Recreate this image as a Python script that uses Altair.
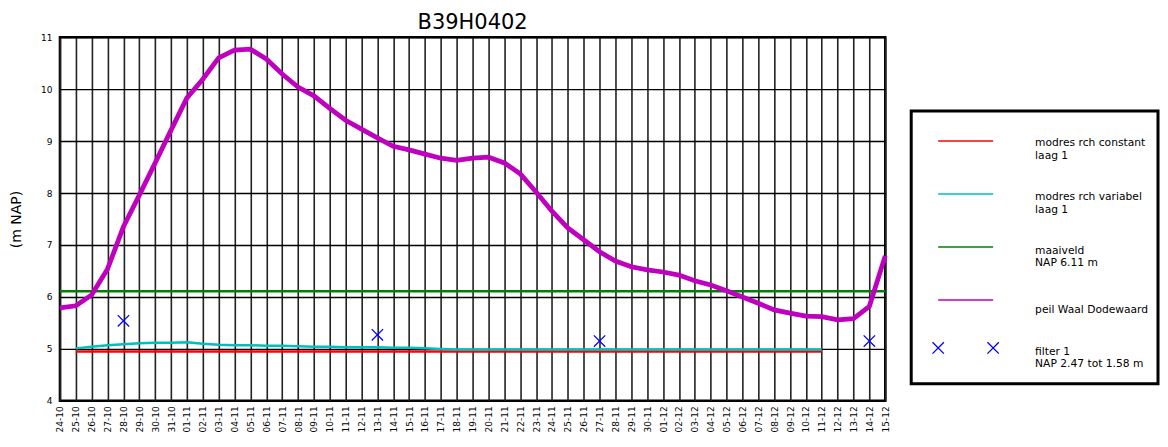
import altair as alt
import pandas as pd

days = ["24-10", "25-10", "26-10", "27-10", "28-10", "29-10", "30-10", "31-10",
        "01-11", "02-11", "03-11", "04-11", "05-11", "06-11", "07-11", "08-11",
        "09-11", "10-11", "11-11", "12-11", "13-11", "14-11", "15-11", "16-11",
        "17-11", "18-11", "19-11", "20-11", "21-11", "22-11", "23-11", "24-11",
        "25-11", "26-11", "27-11", "28-11", "29-11", "30-11", "01-12", "02-12",
        "03-12", "04-12", "05-12", "06-12", "07-12", "08-12", "09-12", "10-12",
        "11-12", "12-12", "13-12", "14-12", "15-12"]

peil_waal = [5.79, 5.83, 6.04, 6.54, 7.35, 7.96, 8.58, 9.21,
             9.83, 10.19, 10.60, 10.75, 10.77, 10.58, 10.29, 10.04,
             9.87, 9.63, 9.40, 9.23, 9.06, 8.90, 8.83, 8.75,
             8.67, 8.63, 8.67, 8.69, 8.58, 8.37, 8.02, 7.65,
             7.33, 7.10, 6.87, 6.69, 6.58, 6.52, 6.48, 6.42,
             6.31, 6.23, 6.12, 6.00, 5.88, 5.75, 5.69, 5.63,
             5.62, 5.56, 5.58, 5.82, 6.79]

model_days = days[1:49]
rch_constant = [4.95] * 48
rch_variabel = [5.01, 5.04, 5.07, 5.09, 5.11, 5.12, 5.12, 5.13,
                5.10, 5.08, 5.07, 5.07, 5.06, 5.06, 5.05, 5.04,
                5.04, 5.03, 5.03, 5.03, 5.02, 5.02, 5.01, 5.00,
                4.99] + [4.99] * 23

maaiveld_days = [days[0], days[-1]]
maaiveld = [6.11, 6.11]

filter_days = ["28-10", "13-11", "27-11", "14-12"]
filter_vals = [5.54, 5.27, 5.15, 5.15]

FONT = "DejaVu Sans"

x_enc = alt.X("day:N", sort=days,
              scale=alt.Scale(type="point", domain=days, padding=0),
              axis=alt.Axis(title=None, labelAngle=-90, labelFontSize=9, labelFont=FONT,
                            labelColor="black", labelPadding=5, ticks=False, domain=False,
                            grid=True, gridColor="#222222", gridWidth=1.6, gridOpacity=1,
                            labelOverlap=False))
y_scale = alt.Scale(domain=[4, 11], nice=False, zero=False)
y_enc = alt.Y("val:Q", scale=y_scale,
              axis=alt.Axis(title="(m NAP)", values=list(range(4, 12)), labelFontSize=9,
                            labelFont=FONT, labelColor="black", labelPadding=8, ticks=False,
                            domain=False, grid=True, gridColor="black", gridWidth=1.4,
                            gridOpacity=1, titleFont=FONT, titleFontSize=14,
                            titleFontWeight="normal", titleColor="black", titlePadding=17))

df_peil = pd.DataFrame({"day": days, "val": peil_waal})
df_const = pd.DataFrame({"day": model_days, "val": rch_constant})
df_var = pd.DataFrame({"day": model_days, "val": rch_variabel})
df_maai = pd.DataFrame({"day": maaiveld_days, "val": maaiveld})
df_filt = pd.DataFrame({"day": filter_days, "val": filter_vals})

cross = "M-1,-1L1,1M-1,1L1,-1"

l_const = alt.Chart(df_const).mark_line(color="#ff0000", strokeWidth=2.5).encode(x=x_enc, y=y_enc)
l_var = alt.Chart(df_var).mark_line(color="#00bfbf", strokeWidth=2.5).encode(x=x_enc, y=y_enc)
l_maai = alt.Chart(df_maai).mark_line(color="#008000", strokeWidth=2.5).encode(x=x_enc, y=y_enc)
l_peil = alt.Chart(df_peil).mark_line(color="#bf00bf", strokeWidth=4.8).encode(x=x_enc, y=y_enc)
p_filt = alt.Chart(df_filt).mark_point(shape=cross, color="#0000ff", size=130, strokeWidth=1.3,
                                       filled=False, opacity=1).encode(x=x_enc, y=y_enc)

main = alt.layer(l_const, l_var, l_maai, l_peil, p_filt).properties(
    width=826, height=364,
    title=alt.TitleParams("B39H0402", fontSize=21, font=FONT, fontWeight="normal",
                          color="black", anchor="middle", offset=0),
)

# legend panel
leg_labels = ["modres rch constant\nlaag 1", "modres rch variabel\nlaag 1",
              "maaiveld\nNAP 6.11 m", "peil Waal Dodewaard", "filter 1\nNAP 2.47 tot 1.58 m"]
leg_colors = ["#ff0000", "#00bfbf", "#008000", "#bf00bf"]
leg_line_y = [104, 157, 210, 263]
leg_text_y = [106, 160, 214, 273, 315]

lx = alt.Scale(domain=[0, 247], nice=False, zero=False)
ly = alt.Scale(domain=[0, 364], nice=False, zero=False, reverse=True)

df_box = pd.DataFrame({"x": [0], "x2": [247], "y": [74], "y2": [347]})
box = alt.Chart(df_box).mark_rect(fill="white", stroke="black", strokeWidth=3).encode(
    x=alt.X("x:Q", scale=lx, axis=None), x2="x2", y=alt.Y("y:Q", scale=ly, axis=None), y2="y2")

df_ll = pd.DataFrame({"x": [27] * 4, "x2": [82] * 4, "y": leg_line_y, "c": leg_colors})
llines = alt.Chart(df_ll).mark_rule(strokeWidth=1.6).encode(
    x=alt.X("x:Q", scale=lx, axis=None), x2="x2", y=alt.Y("y:Q", scale=ly, axis=None),
    color=alt.Color("c:N", scale=None))

df_lc = pd.DataFrame({"x": [27, 82], "y": [311, 311]})
lcross = alt.Chart(df_lc).mark_point(shape=cross, color="#0000ff", size=130, strokeWidth=1.3,
                                     filled=False, opacity=1).encode(
    x=alt.X("x:Q", scale=lx, axis=None), y=alt.Y("y:Q", scale=ly, axis=None))

df_lt = pd.DataFrame({"x": [124] * 5, "y": leg_text_y, "t": leg_labels})
ltext = alt.Chart(df_lt).mark_text(align="left", baseline="middle", fontSize=10.7, font=FONT,
                                   color="black", lineBreak="\n", lineHeight=12.5).encode(
    x=alt.X("x:Q", scale=lx, axis=None), y=alt.Y("y:Q", scale=ly, axis=None), text="t:N")

legend = alt.layer(box, llines, lcross, ltext).properties(
    width=247, height=364,
    title=alt.TitleParams(" ", fontSize=21, font=FONT, offset=0),
    view=alt.ViewBackground(strokeOpacity=0),
)

chart = alt.hconcat(main, legend, spacing=13).properties(
    padding={"left": 0, "top": 2, "right": 0, "bottom": 0}
).configure_view(stroke="black", strokeWidth=2.5)

chart.save("out.html", embed_options={"renderer": "svg", "actions": False})
